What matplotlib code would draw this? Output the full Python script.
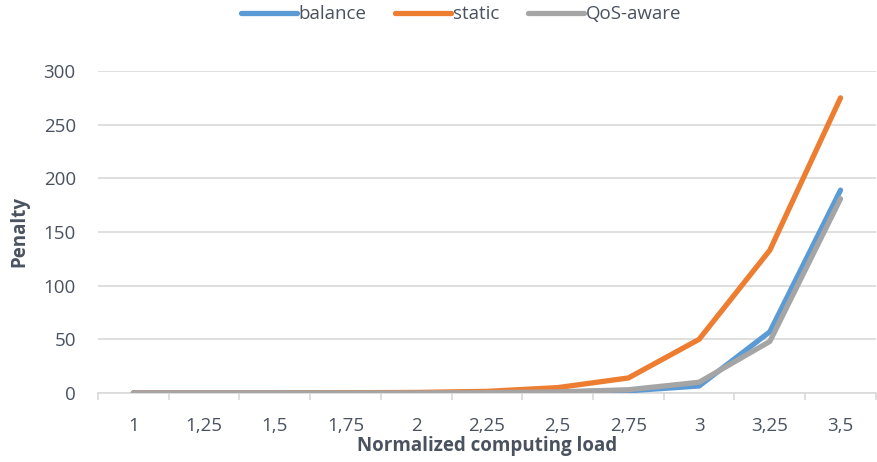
import matplotlib.pyplot as plt
import numpy as np

# Data
LOADS = ["1", "1,25", "1,5", "1,75", "2", "2,25", "2,5", "2,75", "3", "3,25", "3,5"]
BALANCE = [0, 0, 0, 0, 0, 0.3, 1, 2, 6.5, 57, 189]
STATIC = [0, 0, 0, 0.2, 0.5, 1.5, 5, 14, 50, 133, 275]
QOS_AWARE = [0, 0, 0, 0, 0, 0.3, 1, 3, 10, 48, 181]
Y_TICKS = [0, 50, 100, 150, 200, 250, 300]

BLUE = "#5B9BD5"
ORANGE = "#ED7D31"
GREY = "#A5A5A5"
TEXT = "#4A5260"
GRID = "#D9D9D9"
FS = 13.5

plt.rcParams["font.family"] = ["Open Sans", "DejaVu Sans"]

fig = plt.figure(figsize=(8.78, 4.62), dpi=100)
ax = fig.add_axes([0.1116, 0.1494, 0.886, 0.6969])

x = np.arange(len(LOADS))
for ys, color, label in [(BALANCE, BLUE, "balance"),
                         (STATIC, ORANGE, "static"),
                         (QOS_AWARE, GREY, "QoS-aware")]:
    ax.plot(x, ys, color=color, lw=3.8, solid_capstyle="round",
            solid_joinstyle="round", label=label, zorder=3)

ax.set_xlim(-0.5, len(LOADS) - 0.5)
ax.set_ylim(0, 300)
ax.set_yticks(Y_TICKS)
ax.set_xticks(x)
ax.set_xticklabels(LOADS)
ax.set_xticks(np.arange(-0.5, len(LOADS), 1), minor=True)

ax.grid(axis="y", color=GRID, lw=1.2, zorder=0)
for side in ["left", "right", "top"]:
    ax.spines[side].set_visible(False)
ax.spines["bottom"].set_color(GRID)
ax.spines["bottom"].set_linewidth(1.2)

ax.tick_params(axis="y", length=0, pad=16, labelsize=FS, colors=TEXT)
ax.tick_params(axis="x", which="major", length=0, pad=17, labelsize=FS,
               colors=TEXT)
ax.tick_params(axis="x", which="minor", length=5, width=1.2, color=GRID)

ax.set_xlabel("Normalized computing load", fontsize=FS, fontweight="bold",
              color=TEXT, labelpad=1)
ax.set_ylabel("Penalty", fontsize=FS, fontweight="bold", color=TEXT,
              labelpad=10)

fig.legend(loc="upper center", bbox_to_anchor=(0.525, 1.025), ncol=3,
           frameon=False, fontsize=FS, handlelength=3.0, handletextpad=0.1,
           columnspacing=1.5, labelcolor=TEXT)

fig.savefig("out.png", dpi=100)
